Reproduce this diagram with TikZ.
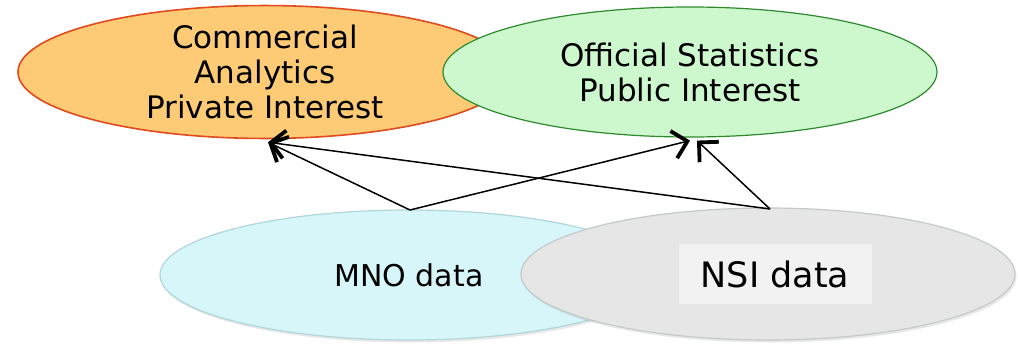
\documentclass[tikz,border=0pt]{standalone}
\usepackage{fontspec}
\setmainfont{DejaVu Sans}
\usetikzlibrary{shapes.geometric,arrows.meta,shadows}
\definecolor{orangefill}{HTML}{FDCB75}
\definecolor{orangeline}{HTML}{E04A1E}
\definecolor{greenfill}{HTML}{CDF7CD}
\definecolor{greenline}{HTML}{2E8A2E}
\definecolor{cyanfill}{HTML}{D6F6FA}
\definecolor{cyanline}{HTML}{B0D6DA}
\definecolor{greyfill}{HTML}{E6E6E6}
\definecolor{greyline}{HTML}{C4CACA}
\definecolor{labelbox}{HTML}{F2F2F2}
\tikzset{
  blob/.style={ellipse, inner sep=0pt, line width=1.2pt, align=center,
    font=\fontsize{31}{35}\selectfont},
  soft/.style={drop shadow={opacity=0.18, shadow xshift=1.5pt, shadow yshift=-2.5pt}},
  arr/.style={line width=1.5pt,
    -{Straight Barb[length=14pt,width=28pt,line width=3.8pt]}}
}
\begin{document}
\begin{tikzpicture}[x=1pt,y=-1pt]
\useasboundingbox (0,0) rectangle (1018,343);
% interests
\node[blob, draw=orangeline, line width=1.6pt, fill=orangefill,
  minimum width=494pt, minimum height=130pt]
  (com) at (265,72) {Commercial\\Analytics\\Private Interest};
\node[blob, draw=greenline, fill=greenfill, minimum width=494pt, minimum height=130pt]
  (off) at (690,72) {Official Statistics\\Public Interest};
% data sources
\node[blob, soft, draw=cyanline, fill=cyanfill, minimum width=498pt, minimum height=130pt,
  font=\fontsize{30}{35}\selectfont]
  (mno) at (409,275) {MNO data};
\node[blob, soft, draw=greyline, fill=greyfill, minimum width=494pt, minimum height=132pt]
  (nsi) at (768,274) {};
\node[fill=labelbox, minimum width=193pt, minimum height=60pt, inner sep=0pt,
  font=\fontsize{35}{40}\selectfont] (nsilabel) at (775,274) {NSI data};
% flows: tips stop just below the upper ellipses
\coordinate (mtop) at (410,210);
\coordinate (ntop) at (770,209);
\coordinate (comin) at ([xshift=3pt,yshift=-3pt]com.south);
\coordinate (offin) at ([yshift=-3pt]off.south);
\coordinate (offin2) at ([xshift=7pt,yshift=-3pt]off.south);
\draw[arr] (mtop) -- (comin);
\draw[arr] (mtop) -- (offin);
\draw[arr] (ntop) -- (comin);
\draw[arr] (ntop) -- (offin2);
\end{tikzpicture}
\end{document}
